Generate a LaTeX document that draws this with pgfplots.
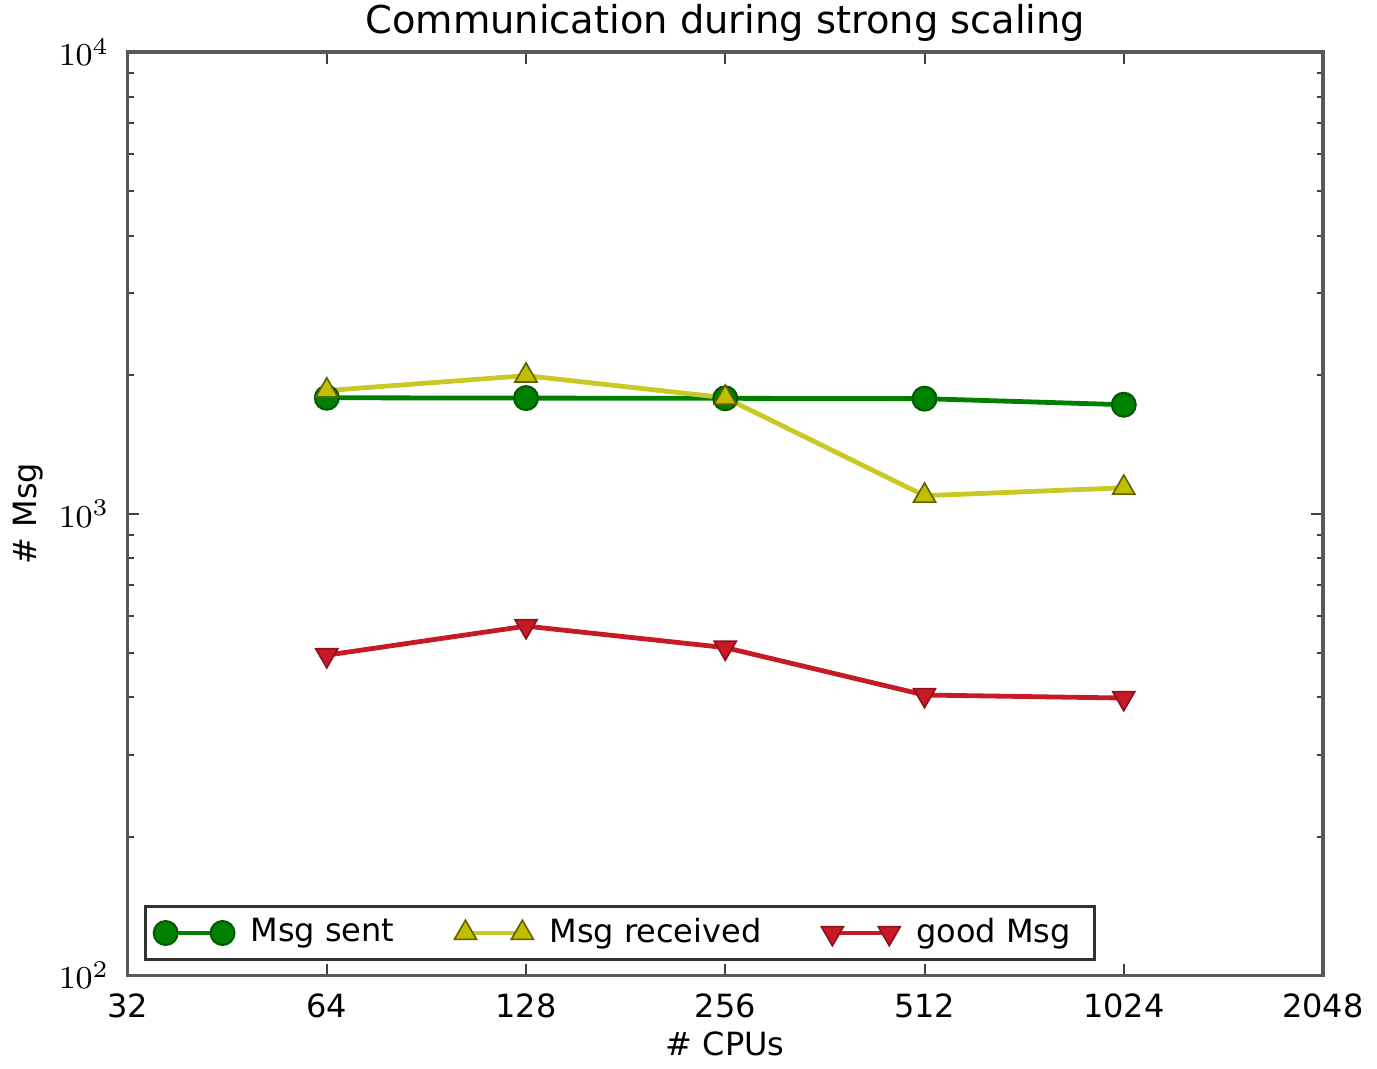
\documentclass[border=0pt]{standalone}
\usepackage{pgfplots}
\pgfplotsset{compat=1.18}
\usepackage{fontspec}
\setmainfont{DejaVu Sans}
\definecolor{mgreen}{rgb}{0,0.5,0}
\definecolor{myellow}{rgb}{0.75,0.75,0}
\definecolor{mred}{rgb}{0.78,0.1,0.15}
\begin{document}
\begin{tikzpicture}
\begin{axis}[
  scale only axis,
  width=299pt, height=231pt,
  xmode=log, ymode=log,
  log basis x=2,
  xmin=32, xmax=2048, ymin=100, ymax=10000,
  xtick={32,64,128,256,512,1024,2048},
  xticklabels={32,64,128,256,512,1024,2048},
  ytick={100,1000,10000},
  yticklabels={$10^{2}$,$10^{3}$,$10^{4}$},
  tick align=inside,
  major tick length=3pt,
  minor tick length=1.6pt,
  tick style={black!75, line width=0.5pt},
  axis line style={black!65, line width=0.9pt},
  ticklabel style={font=\fontsize{8}{9.5}\selectfont},
  xticklabel style={yshift=-1pt},
  yticklabel style={xshift=-1pt},
  title={Communication during strong scaling},
  title style={font=\fontsize{9.6}{11}\selectfont, at={(axis description cs:0.5,1)}, anchor=south, inner sep=1pt, yshift=-4.5pt},
  xlabel={\# CPUs},
  ylabel={\# Msg},
  xlabel style={font=\fontsize{8}{9.5}\selectfont, yshift=3.5pt},
  ylabel style={font=\fontsize{8}{9.5}\selectfont, yshift=-3pt},
  legend columns=3,
  legend style={at={(axis description cs:0.014,0.016)}, anchor=south west,
    font=\fontsize{8}{9.5}\selectfont, draw=black!80, line width=0.7pt,
    inner xsep=2pt, inner ysep=0.8pt,
    /tikz/every even column/.append style={column sep=11pt},
    nodes={inner xsep=4pt}},
  legend image code/.code={\draw[#1] plot coordinates {(0cm,0cm) (0.5cm,0cm)};},
]
\addplot[mgreen, line width=1.2pt, mark=*, mark size=3pt, mark options={fill=mgreen, draw=mgreen!70!black, line width=0.5pt}]
  coordinates {(64,1783) (128,1780) (256,1778) (512,1775) (1024,1722)};
\addlegendentry{Msg sent}
\addplot[myellow!85!white, line width=1.2pt, mark=triangle*, mark size=3.2pt, mark options={fill=myellow, draw=myellow!50!black, line width=0.4pt}]
  coordinates {(64,1848) (128,1991) (256,1783) (512,1094) (1024,1138)};
\addlegendentry{Msg received}
\addplot[mred, line width=1.2pt, mark=triangle*, mark size=3.2pt, mark options={rotate=180, fill=mred, draw=mred!70!black, line width=0.4pt}]
  coordinates {(64,494) (128,571) (256,513) (512,405) (1024,399)};
\addlegendentry{good Msg}
\end{axis}
\end{tikzpicture}
\end{document}
